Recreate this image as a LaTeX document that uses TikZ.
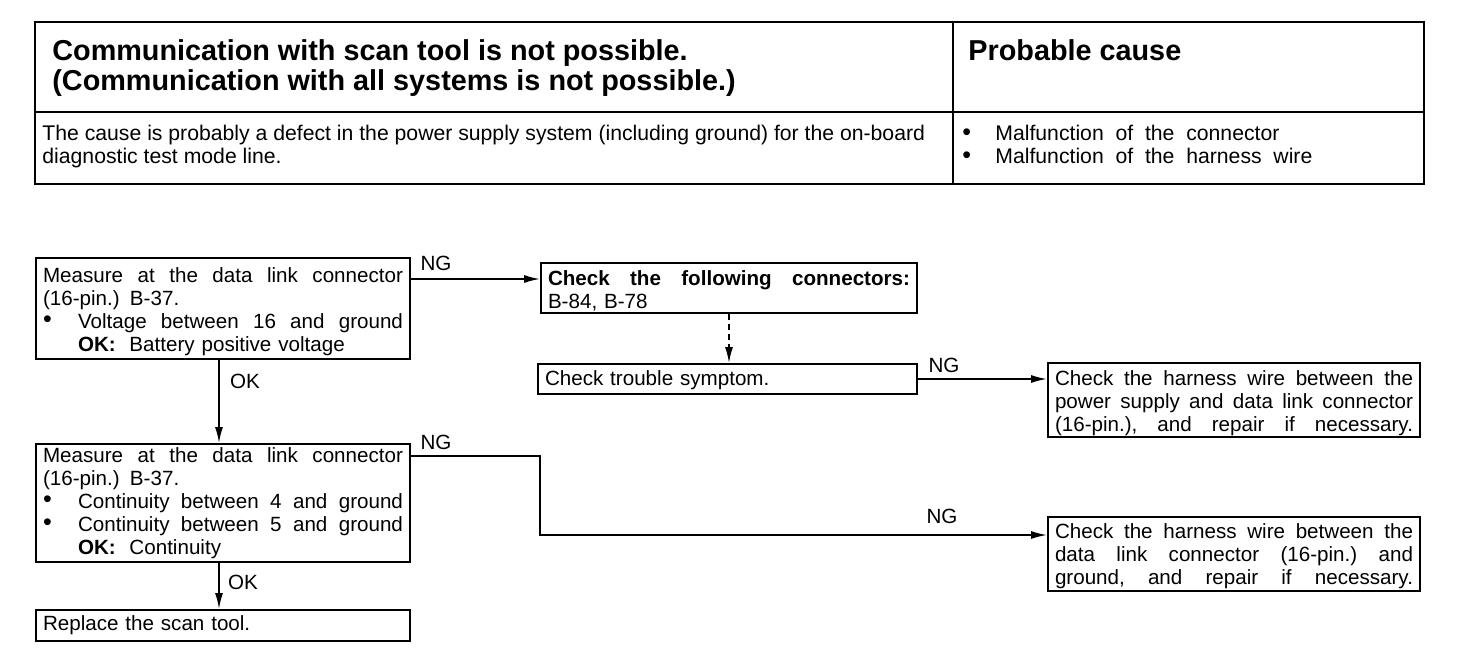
\documentclass[tikz,border=0pt]{standalone}
\usepackage{fontspec}
\setmainfont{Liberation Sans}
\usetikzlibrary{arrows.meta}
\newcommand{\J}[2]{\leavevmode\hbox to #1{#2}}
\newcommand{\lift}[1]{\rule{0pt}{#1}}
\newcommand{\bdot}{\raisebox{0.3pt}{\fontsize{12.5}{12}\selectfont\textbullet}}
\newcommand{\bl}[1]{\leavevmode\makebox[17.5pt][l]{\bdot}\hbox to 162.5pt{#1}}
\newcommand{\okl}[1]{\leavevmode\hspace*{17.5pt}\textbf{OK:}\ \ #1}
\begin{document}
\begin{tikzpicture}[x=0.5pt,y=-0.5pt,
  box/.style={draw, line width=1pt, anchor=north west, inner xsep=3.5pt, inner ysep=0pt,
    align=left, font=\fontsize{10.3}{11.5}\selectfont},
  conn/.style={line width=0.8pt, -{Latex[length=8pt,width=4pt]}},
  lbl/.style={font=\fontsize{10.3}{11}\selectfont, inner sep=0pt},
  ttl/.style={font=\fontsize{14.4}{15}\selectfont\bfseries, inner sep=0pt, anchor=base west},
  tbody/.style={font=\fontsize{10.6}{12}\selectfont, inner sep=0pt, anchor=base west},
  frame/.style={line width=1pt}]
\useasboundingbox (0,0) rectangle (1472,652);
% table
\draw[frame] (35,22) rectangle (1424,184);
\draw[frame] (953,22) -- (953,184);
\draw[frame] (35,112) -- (1424,112);
\node[ttl] (t1) at (52,61) {Communication with scan tool is not possible.};
\node[ttl] (t2) at (52,91) {(Communication with all systems is not possible.)};
\node[ttl] (pc) at (968,61) {Probable cause};
\node[tbody] (b1) at (42,141) {The cause is probably a defect in the power supply system (including ground) for the on-board};
\node[tbody] (b2) at (42,164) {diagnostic test mode line.};
\node[tbody] (d1) at (962,141) {\bdot};
\node[tbody] (d2) at (962,164) {\bdot};
\node[tbody] (m1) at (995,141) {Malfunction\ \ of\ \ the\ \ connector};
\node[tbody] (m2) at (995,164) {Malfunction\ \ of\ \ the\ \ harness\ \ wire};
% flowchart boxes
\node[box, text width=180pt, minimum height=50.5pt] (A) at (35,257) {%
\J{180pt}{\lift{10.5pt}Measure\hfill at\hfill the\hfill data\hfill link\hfill connector}\\
(16-pin.) B-37.\\
\bl{Voltage\hfill between\hfill 16\hfill and\hfill ground}\\
\okl{Battery positive voltage}};
\node[box, text width=181pt, minimum height=25pt] (B) at (540,262) {%
\J{181pt}{\lift{10pt}\textbf{Check\hfill the\hfill following\hfill connectors:}}\\
B-84, B-78};
\node[box, text width=182.5pt, minimum height=15pt] (C) at (537,363) {\lift{8.5pt}Check trouble symptom.};
\node[box, text width=179pt, minimum height=37pt] (D) at (1047,362) {%
\J{179pt}{\lift{10.5pt}Check\hfill the\hfill harness\hfill wire\hfill between\hfill the}\\
\J{179pt}{power\hfill supply\hfill and\hfill data\hfill link\hfill connector}\\
\J{179pt}{(16-pin.),\hfill and\hfill repair\hfill if\hfill necessary.}};
\node[box, text width=180pt, minimum height=59pt] (E) at (35,443) {%
\J{180pt}{Measure\hfill at\hfill the\hfill data\hfill link\hfill connector}\\
(16-pin.) B-37.\\
\bl{Continuity\hfill between\hfill 4\hfill and\hfill ground}\\
\bl{Continuity\hfill between\hfill 5\hfill and\hfill ground}\\
\okl{Continuity}};
\node[box, text width=180pt, minimum height=15.5pt] (F) at (35,609) {Replace the scan tool.};
\node[box, text width=179pt, minimum height=37pt] (G) at (1047,516) {%
\J{179pt}{\lift{10pt}Check\hfill the\hfill harness\hfill wire\hfill between\hfill the}\\
\J{179pt}{data\hfill link\hfill connector\hfill (16-pin.)\hfill and}\\
\J{179pt}{ground,\hfill and\hfill repair\hfill if\hfill necessary.}};
% connectors
\draw[conn] ([yshift=-11pt]A.north east) -- ([yshift=-8.5pt]B.north west);
\node[lbl] (ng1) at (436,263) {NG};
\draw[conn] ([xshift=-2pt]A.south) -- ([xshift=-2pt]A.south |- E.north);
\node[lbl] (ok1) at (245,381) {OK};
\draw[conn, dash pattern=on 3pt off 2pt] (B.south) -- (B.south |- C.north);
\draw[conn] (C.east) -- (C.east -| D.west);
\node[lbl] (ng2) at (944,365) {NG};
\coordinate (bend) at (540,456);
\draw[conn] ([yshift=-6.5pt]E.north east) -- (bend) |- ([yshift=-9.5pt]G.north west);
\node[lbl] (ng3) at (436,442) {NG};
\node[lbl] (ng4) at (942,516) {NG};
\draw[conn] ([xshift=-2pt]E.south) -- ([xshift=-2pt]E.south |- F.north);
\node[lbl] (ok2) at (243,582) {OK};
\end{tikzpicture}
\end{document}
